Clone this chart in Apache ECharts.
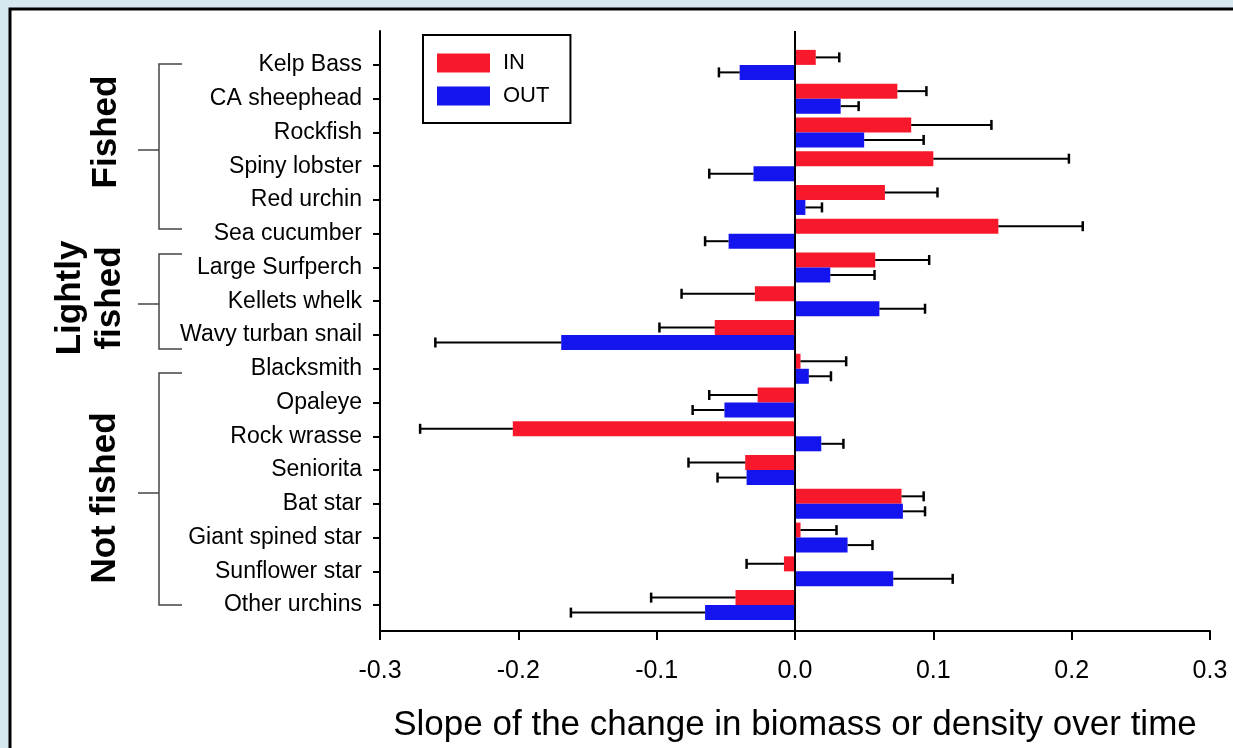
<!DOCTYPE html>
<html>
<head>
<meta charset="utf-8">
<script src="https://cdn.jsdelivr.net/npm/echarts@6/dist/echarts.min.js"></script>
<style>
  html, body { margin: 0; padding: 0; background: #d7e7f0; }
  #chart { width: 1233px; height: 748px; }
</style>
</head>
<body>
<div id="chart"></div>
<script>
var species = ['Kelp Bass', 'CA sheephead', 'Rockfish', 'Spiny lobster', 'Red urchin', 'Sea cucumber',
  'Large Surfperch', 'Kellets whelk', 'Wavy turban snail',
  'Blacksmith', 'Opaleye', 'Rock wrasse', 'Seniorita', 'Bat star', 'Giant spined star', 'Sunflower star', 'Other urchins'];
var inSlope  = [0.015, 0.074, 0.084, 0.100, 0.065, 0.147, 0.058, -0.029, -0.058, 0.004, -0.027, -0.204, -0.036, 0.077, 0.004, -0.008, -0.043];
var inErr    = [0.017, 0.021, 0.058, 0.098, 0.038, 0.061, 0.039, 0.053, 0.040, 0.033, 0.035, 0.067, 0.041, 0.016, 0.026, 0.027, 0.061];
var outSlope = [-0.040, 0.033, 0.050, -0.030, 0.0075, -0.048, 0.0255, 0.061, -0.169, 0.010, -0.051, 0.019, -0.035, 0.078, 0.038, 0.071, -0.065];
var outErr   = [0.015, 0.013, 0.043, 0.032, 0.012, 0.017, 0.032, 0.033, 0.091, 0.016, 0.023, 0.016, 0.021, 0.016, 0.018, 0.043, 0.097];
var xTicks = [-0.3, -0.2, -0.1, 0.0, 0.1, 0.2, 0.3];

var font = 'Liberation Sans, Arial, sans-serif';
var red = '#f7192b';
var blue = '#1414ee';

function errData(vals, errs) {
  return vals.map(function (v, i) { return [v, i, errs[i]]; });
}

function errRender(offset) {
  return function (params, api) {
    var v = api.value(0), cat = api.value(1), e = api.value(2);
    var sign = v < 0 ? -1 : 1;
    var p0 = api.coord([v, cat]);
    var p1 = api.coord([v + sign * e, cat]);
    var y = p0[1] + offset;
    return {
      type: 'group',
      children: [
        { type: 'line', shape: { x1: p0[0], y1: y, x2: p1[0], y2: y }, style: { stroke: '#000', lineWidth: 2 } },
        { type: 'line', shape: { x1: p1[0], y1: y - 5, x2: p1[0], y2: y + 5 }, style: { stroke: '#000', lineWidth: 2.5 } }
      ]
    };
  };
}

var myChart = echarts.init(document.getElementById('chart'));
var option = {
  backgroundColor: '#d7e7f0',
  animation: false,
  textStyle: { fontFamily: font },
  legend: {
    orient: 'vertical',
    left: 423,
    top: 35,
    data: ['IN', 'OUT'],
    icon: 'rect',
    itemWidth: 53,
    itemHeight: 19,
    itemGap: 11,
    padding: [17, 21, 16, 14],
    borderColor: '#000',
    borderWidth: 2,
    textStyle: { fontSize: 22, color: '#000', fontFamily: font, padding: [0, 0, 0, 8] }
  },
  grid: [
    { left: 380, right: 23, top: 31, bottom: 111 },
    { left: 380, right: 23, top: 48, bottom: 126 }
  ],
  xAxis: [
    {
      type: 'value', gridIndex: 0,
      min: xTicks[0], max: xTicks[xTicks.length - 1], interval: 0.1,
      axisLine: { onZero: false, lineStyle: { color: '#000', width: 2 } },
      axisTick: { length: 9, lineStyle: { color: '#000', width: 2 } },
      axisLabel: {
        fontSize: 25, color: '#000', margin: 28, fontFamily: font,
        formatter: function (v) { return Math.abs(v) < 1e-9 ? '0.0' : v.toFixed(1); }
      },
      splitLine: { show: false },
      name: 'Slope of the change in biomass or density over time',
      nameLocation: 'middle',
      nameGap: 77,
      nameTextStyle: { fontSize: 35, color: '#000', fontFamily: font }
    },
    {
      type: 'value', gridIndex: 1,
      min: xTicks[0], max: xTicks[xTicks.length - 1],
      show: false
    }
  ],
  yAxis: [
    {
      type: 'value', gridIndex: 0, min: 0, max: 1,
      axisLine: { show: true, onZero: false, lineStyle: { color: '#000', width: 2 } },
      axisTick: { show: false },
      axisLabel: { show: false },
      splitLine: { show: false }
    },
    {
      type: 'category', gridIndex: 1, inverse: true,
      data: species,
      axisLine: { show: false, onZero: false },
      axisTick: { show: true, alignWithLabel: true, length: 7, lineStyle: { color: '#000', width: 2 } },
      axisLabel: { fontSize: 23, color: '#000', margin: 18, fontFamily: font },
      splitLine: { show: false }
    }
  ],
  series: [
    {
      name: 'zero', type: 'line', xAxisIndex: 0, yAxisIndex: 0,
      data: [[0, 0]], symbol: 'none', silent: true,
      lineStyle: { opacity: 0 },
      markLine: {
        silent: true, symbol: 'none', label: { show: false },
        lineStyle: { color: '#000', width: 2, type: 'solid' },
        data: [{ xAxis: 0 }]
      }
    },
    {
      name: 'IN', type: 'bar', xAxisIndex: 1, yAxisIndex: 1,
      data: inSlope, barWidth: 15, barGap: '0%',
      itemStyle: { color: red }
    },
    {
      name: 'OUT', type: 'bar', xAxisIndex: 1, yAxisIndex: 1,
      data: outSlope, barWidth: 15, barGap: '0%',
      itemStyle: { color: blue }
    },
    {
      name: 'IN err', type: 'custom', xAxisIndex: 1, yAxisIndex: 1,
      data: errData(inSlope, inErr), encode: { x: 0, y: 1 },
      renderItem: errRender(-7.5), z: 5, silent: true
    },
    {
      name: 'OUT err', type: 'custom', xAxisIndex: 1, yAxisIndex: 1,
      data: errData(outSlope, outErr), encode: { x: 0, y: 1 },
      renderItem: errRender(7.5), z: 5, silent: true
    }
  ],
  graphic: [
    {
      type: 'rect', z: -100, silent: true,
      shape: { x: 10, y: 9, width: 1400, height: 900 },
      style: { fill: '#fff', stroke: '#000', lineWidth: 3 }
    },
    // group brackets
    { type: 'polyline', silent: true, shape: { points: [[182, 64], [159, 64], [159, 229], [182, 229]] }, style: { stroke: '#444', lineWidth: 1.5, fill: null } },
    { type: 'line', silent: true, shape: { x1: 138, y1: 150, x2: 159, y2: 150 }, style: { stroke: '#444', lineWidth: 1.5 } },
    { type: 'polyline', silent: true, shape: { points: [[182, 254], [159, 254], [159, 349], [182, 349]] }, style: { stroke: '#444', lineWidth: 1.5, fill: null } },
    { type: 'line', silent: true, shape: { x1: 138, y1: 304, x2: 159, y2: 304 }, style: { stroke: '#444', lineWidth: 1.5 } },
    { type: 'polyline', silent: true, shape: { points: [[182, 373], [159, 373], [159, 605], [182, 605]] }, style: { stroke: '#444', lineWidth: 1.5, fill: null } },
    { type: 'line', silent: true, shape: { x1: 138, y1: 493, x2: 159, y2: 493 }, style: { stroke: '#444', lineWidth: 1.5 } },
    // group labels
    { type: 'text', silent: true, x: 106, y: 132, rotation: Math.PI / 2,
      style: { text: 'Fished', fontSize: 35, fontWeight: 'bold', fontFamily: font, fill: '#000', align: 'center', verticalAlign: 'middle' } },
    { type: 'text', silent: true, x: 70, y: 298, rotation: Math.PI / 2,
      style: { text: 'Lightly', fontSize: 35, fontWeight: 'bold', fontFamily: font, fill: '#000', align: 'center', verticalAlign: 'middle' } },
    { type: 'text', silent: true, x: 110, y: 298, rotation: Math.PI / 2,
      style: { text: 'fished', fontSize: 35, fontWeight: 'bold', fontFamily: font, fill: '#000', align: 'center', verticalAlign: 'middle' } },
    { type: 'text', silent: true, x: 105, y: 498, rotation: Math.PI / 2,
      style: { text: 'Not fished', fontSize: 35, fontWeight: 'bold', fontFamily: font, fill: '#000', align: 'center', verticalAlign: 'middle' } }
  ]
};
myChart.setOption(option);
</script>
</body>
</html>
